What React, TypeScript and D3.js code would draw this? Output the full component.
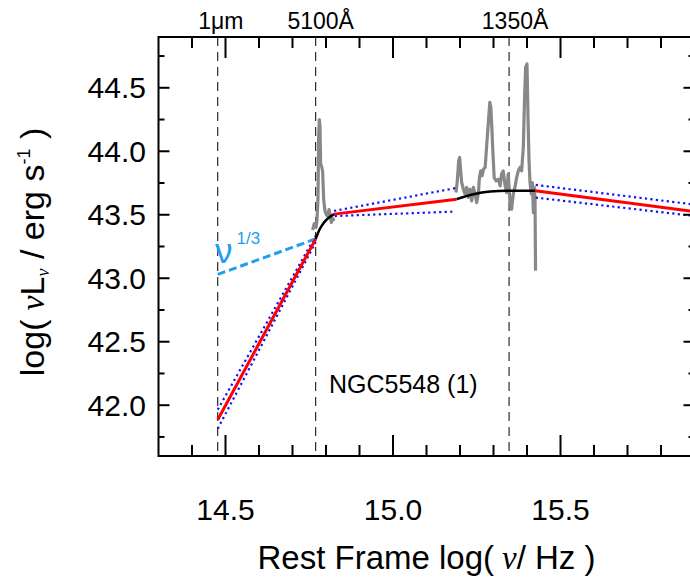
import React from 'react';
import * as d3 from 'd3';

const W = 690;
const H = 580;
const X_DOMAIN: [number, number] = [14.3, 15.9];
const Y_DOMAIN: [number, number] = [41.6, 44.9];
const xMajorTicks = [14.5, 15.0, 15.5];
const yMajorTicks = [42.0, 42.5, 43.0, 43.5, 44.0, 44.5];
const xMinorTicks = d3.range(14.4, 15.85, 0.1);
const yMinorTicks = d3.range(41.75, 44.8, 0.25);

const C_ANGSTROM = 2.99792458e18;
const refLines = [
  { label: '1\u03bcm', lambda: 10000, dx: 3 },
  { label: '5100\u00c5', lambda: 5100, dx: 5 },
  { label: '1350\u00c5', lambda: 1350, dx: 6 },
];

// observed spectrum (gray)
const specOptical: [number, number][] = [
  [14.760, 43.38], [14.765, 43.43], [14.770, 43.40], [14.773, 43.45], [14.776, 43.62],
  [14.778, 44.10], [14.780, 44.25], [14.782, 44.20], [14.784, 43.90], [14.787, 43.88],
  [14.790, 43.84], [14.793, 43.62], [14.797, 43.53], [14.801, 43.50], [14.805, 43.49],
  [14.809, 43.54], [14.812, 43.50], [14.816, 43.44], [14.820, 43.47], [14.824, 43.45],
];
const specUV: [number, number][] = [
  [15.188, 43.675], [15.192, 43.767], [15.196, 43.925], [15.199, 43.951], [15.202, 43.846],
  [15.205, 43.754], [15.210, 43.701], [15.215, 43.662], [15.220, 43.715], [15.225, 43.636],
  [15.230, 43.701], [15.235, 43.609], [15.240, 43.715], [15.245, 43.662], [15.250, 43.596],
  [15.255, 43.675], [15.258, 43.793], [15.262, 43.846], [15.266, 43.807], [15.270, 43.859],
  [15.275, 43.872], [15.280, 44.057], [15.285, 44.241], [15.289, 44.386], [15.292, 44.346],
  [15.295, 44.188], [15.298, 44.004], [15.302, 43.793], [15.308, 43.767], [15.315, 43.780],
  [15.320, 43.728], [15.324, 43.820], [15.329, 43.846], [15.334, 43.741], [15.339, 43.675],
  [15.344, 43.820], [15.349, 43.609], [15.354, 43.543], [15.359, 43.662], [15.364, 43.715],
  [15.369, 43.793], [15.374, 43.846], [15.379, 43.872], [15.384, 43.846], [15.389, 44.030],
  [15.393, 44.451], [15.396, 44.662], [15.400, 44.688], [15.403, 44.267], [15.406, 43.925],
  [15.409, 43.754], [15.413, 43.662], [15.416, 43.754], [15.419, 43.517], [15.422, 43.715],
  [15.424, 43.609], [15.4255, 43.06],
];

// power-law fits (red)
const redFits: [number, number][][] = [
  [[14.4768, 41.886], [14.7693, 43.31]],
  [[14.824, 43.505], [15.190, 43.623]],
  [[15.424, 43.689], [15.900, 43.525]],
];
// uncertainty envelopes (blue dotted)
const dottedLines: [number, number][][] = [
  [[14.4768, 41.965], [14.7693, 43.335]],
  [[14.4768, 41.815], [14.7693, 43.285]],
  [[14.824, 43.530], [15.187, 43.710]],
  [[14.826, 43.490], [15.185, 43.525]],
  [[15.426, 43.735], [15.900, 43.580]],
  [[15.426, 43.635], [15.900, 43.490]],
];
// smooth joins (black)
const blackJoins: [number, number][][] = [
  [[14.7693, 43.31], [14.780, 43.38], [14.793, 43.435], [14.808, 43.476], [14.824, 43.505]],
  [[15.190, 43.623], [15.240, 43.662], [15.290, 43.683], [15.340, 43.689], [15.424, 43.689]],
];
// nu^(1/3) extrapolation (cyan dashed)
const nuThird: [number, number][] = [[14.4768, 43.03], [14.7693, 43.31]];

const ML = 158.5;
const MR = 694.5;
const MT = 37;
const MB = 456;

export default function App() {
  const x = d3.scaleLinear().domain(X_DOMAIN).range([ML, MR]);
  const y = d3.scaleLinear().domain(Y_DOMAIN).range([MB, MT]);
  const line = d3.line<[number, number]>().x((d) => x(d[0])).y((d) => y(d[1]));
  const curve = d3
    .line<[number, number]>()
    .x((d) => x(d[0]))
    .y((d) => y(d[1]))
    .curve(d3.curveMonotoneX);

  const font = "'Liberation Sans', Arial, Helvetica, sans-serif";
  const serif = "'Liberation Serif', 'Times New Roman', serif";
  const isMajorX = (v: number) => xMajorTicks.some((m) => Math.abs(m - v) < 1e-6);
  const isMajorY = (v: number) => yMajorTicks.some((m) => Math.abs(m - v) < 1e-6);

  return (
    <svg
      width={W}
      height={H}
      viewBox={`0 0 ${W} ${H}`}
      style={{ position: 'absolute', left: 0, top: 0, background: '#fff' }}
    >
      <rect x={0} y={0} width={W} height={H} fill="#fff" />
      <defs>
        <clipPath id="plotclip">
          <rect x={ML} y={MT} width={MR - ML} height={MB - MT} />
        </clipPath>
      </defs>

      {/* reference wavelength lines */}
      {refLines.map((r) => {
        const lx = x(Math.log10(C_ANGSTROM / r.lambda));
        return (
          <g key={r.label}>
            <line x1={lx} x2={lx} y1={MT} y2={MB} stroke="#000" strokeWidth={1} strokeDasharray="9,6" />
            <text x={lx + r.dx} y={29} fontFamily={font} fontSize={23} textAnchor="middle" fill="#000">
              {r.label}
            </text>
          </g>
        );
      })}

      <g clipPath="url(#plotclip)">
        <path d={line(specOptical) || ''} fill="none" stroke="#888" strokeWidth={3.2} strokeLinejoin="round" />
        <path d={line(specUV) || ''} fill="none" stroke="#888" strokeWidth={3.2} strokeLinejoin="round" />
        {dottedLines.map((d, i) => (
          <path key={'d' + i} d={line(d) || ''} fill="none" stroke="#1010ff" strokeWidth={2.2} strokeDasharray="2.2,3.3" />
        ))}
        <path d={line(nuThird) || ''} fill="none" stroke="#1f9ff0" strokeWidth={3} strokeDasharray="8,4" />
        {redFits.map((d, i) => (
          <path key={'r' + i} d={line(d) || ''} fill="none" stroke="#ff0000" strokeWidth={3} />
        ))}
        {blackJoins.map((d, i) => (
          <path key={'b' + i} d={curve(d) || ''} fill="none" stroke="#000" strokeWidth={2.5} />
        ))}
      </g>

      {/* frame */}
      <rect x={ML} y={MT} width={MR - ML} height={MB - MT} fill="none" stroke="#000" strokeWidth={2} />

      {/* x ticks (bottom and top) */}
      {xMinorTicks.map((v) => {
        const len = isMajorX(v) ? 21 : 11;
        const px = x(v);
        return (
          <g key={'xt' + v.toFixed(2)}>
            <line x1={px} x2={px} y1={MB} y2={MB - len} stroke="#000" strokeWidth={2} />
            <line x1={px} x2={px} y1={MT} y2={MT + len} stroke="#000" strokeWidth={2} />
          </g>
        );
      })}
      {/* y ticks (left and right) */}
      {yMinorTicks.map((v) => {
        const len = isMajorY(v) ? 11 : 6;
        const py = y(v);
        return (
          <g key={'yt' + v.toFixed(2)}>
            <line x1={ML} x2={ML + len} y1={py} y2={py} stroke="#000" strokeWidth={2} />
            <line x1={MR} x2={MR - len} y1={py} y2={py} stroke="#000" strokeWidth={2} />
          </g>
        );
      })}

      {/* tick labels */}
      {xMajorTicks.map((v) => (
        <text key={'xl' + v} x={x(v)} y={520} fontFamily={font} fontSize={30} textAnchor="middle" fill="#000">
          {v.toFixed(1)}
        </text>
      ))}
      {yMajorTicks.map((v) => (
        <text key={'yl' + v} x={146} y={y(v) + 10.5} fontFamily={font} fontSize={30} textAnchor="end" fill="#000">
          {v.toFixed(1)}
        </text>
      ))}

      {/* axis titles */}
      <text x={(ML + MR) / 2} y={569} fontFamily={font} fontSize={33} textAnchor="middle" fill="#000">
        Rest Frame log(
        <tspan fontFamily={serif} fontStyle="italic" dx={8}>{'\u03bd'}</tspan>
        <tspan>/ Hz )</tspan>
      </text>
      <text
        transform={`translate(44, 252) rotate(-90)`}
        fontFamily={font}
        fontSize={34}
        textAnchor="middle"
        fill="#000"
      >
        log(
        <tspan fontFamily={serif} fontStyle="italic" dx={9}>{'\u03bd'}</tspan>
        <tspan>L</tspan>
        <tspan fontFamily={serif} fontStyle="italic" fontSize={18} dy={5}>{'\u03bd'}</tspan>
        <tspan dy={-5}> / erg s</tspan>
        <tspan fontSize={18} dy={-14}>-1</tspan>
        <tspan dy={14}> )</tspan>
      </text>

      {/* annotations */}
      <text x={215} y={263} fontFamily={font} fontSize={35} fill="#1f9ff0">
        {'\u03bd'}
        <tspan fontSize={17} dx={4} dy={-19}>1/3</tspan>
      </text>
      <text x={329} y={393} fontFamily={font} fontSize={25} fill="#000">
        NGC5548 (1)
      </text>
    </svg>
  );
}
